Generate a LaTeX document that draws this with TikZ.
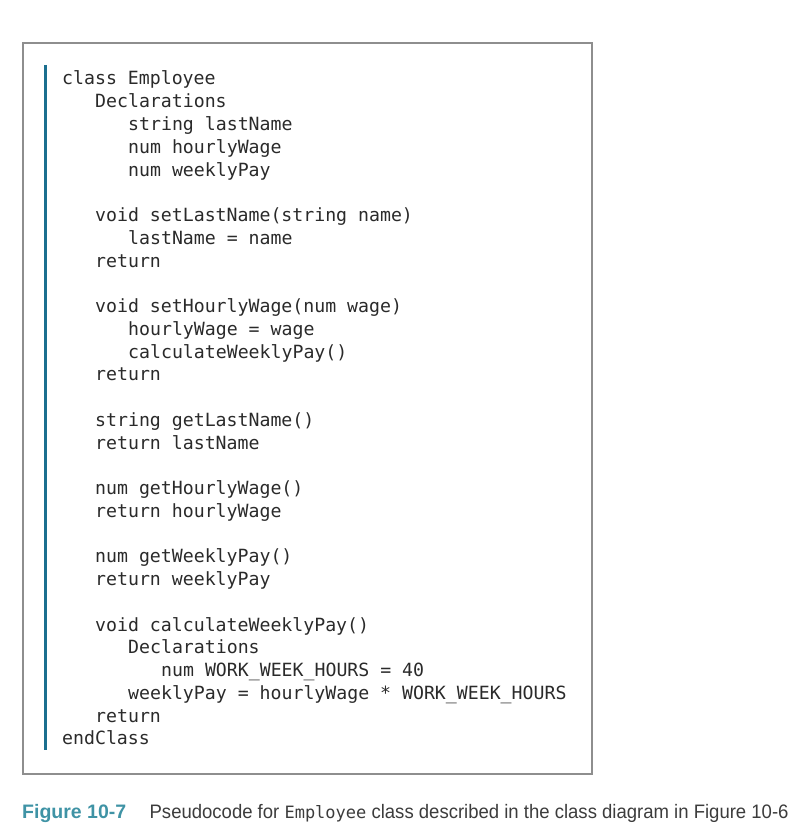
\documentclass[tikz,border=0pt]{standalone}
\usepackage{fontspec}
\usetikzlibrary{positioning}
\newfontfamily\codefont{DejaVu Sans Mono}
\newfontfamily\figfont{Liberation Sans}
\newfontfamily\capfont[FakeStretch=0.95]{Liberation Sans}
\definecolor{framegray}{HTML}{8E8E8E}
\definecolor{barblue}{HTML}{1B6F8F}
\definecolor{figteal}{HTML}{3F93A5}
\definecolor{captext}{HTML}{3C3C3C}
\definecolor{codetext}{HTML}{2A2A2A}
\begin{document}
\begin{tikzpicture}[x=1pt,y=-1pt,
    codeline/.style={anchor=base west, inner sep=0pt, text=codetext, font=\codefont\fontsize{18.2}{22}\selectfont},
    captionpart/.style={inner sep=0pt, font=\capfont\fontsize{19.5}{23}\selectfont}]
    \useasboundingbox (0,0) rectangle (803,837);
    % frame and side bar
    \node[draw=framegray, line width=2pt, inner sep=0pt, minimum width=569pt, minimum height=731pt, anchor=north west] (frame) at (22,42) {};
    \coordinate (bartop) at (45,65);
    \coordinate (barbot) at (45,750);
    \draw[barblue, line width=3pt] (bartop) -- (barbot);

    % pseudocode
    \node[codeline] (cls) at (62,85) {class Employee};
    \node[codeline] (decl) at (95,107.8) {Declarations};
    \node[codeline] (d1) at (128,130.5) {string lastName};
    \node[codeline] (d2) at (128,153.3) {num hourlyWage};
    \node[codeline] (d3) at (128,176) {num weeklyPay};

    \node[codeline] (m1) at (95,221.5) {void setLastName(string name)};
    \node[codeline] (m1a) at (128,244.3) {lastName = name};
    \node[codeline] (m1r) at (95,267) {return};

    \node[codeline] (m2) at (95,312.5) {void setHourlyWage(num wage)};
    \node[codeline] (m2a) at (128,335.3) {hourlyWage = wage};
    \node[codeline] (m2b) at (128,358) {calculateWeeklyPay()};
    \node[codeline] (m2r) at (95,380.8) {return};

    \node[codeline] (m3) at (95,426.3) {string getLastName()};
    \node[codeline] (m3r) at (95,449) {return lastName};

    \node[codeline] (m4) at (95,494.6) {num getHourlyWage()};
    \node[codeline] (m4r) at (95,517.3) {return hourlyWage};

    \node[codeline] (m5) at (95,562.8) {num getWeeklyPay()};
    \node[codeline] (m5r) at (95,585.6) {return weeklyPay};

    \node[codeline] (m6) at (95,631.1) {void calculateWeeklyPay()};
    \node[codeline] (m6d) at (128,653.8) {Declarations};
    \node[codeline] (m6c) at (161,676.6) {num WORK\_WEEK\_HOURS = 40};
    \node[codeline] (m6a) at (128,699.4) {weeklyPay = hourlyWage * WORK\_WEEK\_HOURS};
    \node[codeline] (m6r) at (95,722.1) {return};
    \node[codeline] (ecls) at (62,744.9) {endClass};

    % caption
    \node[captionpart, anchor=base west, text=figteal, font=\figfont\fontsize{19.5}{23}\selectfont\bfseries] (fig) at (22,818) {Figure 10-7};
    \node[captionpart, base right=23pt of fig, text=captext] (desc) {Pseudocode for {\codefont\fontsize{17}{20}\selectfont Employee} class described in the class diagram in Figure 10-6};
\end{tikzpicture}
\end{document}
